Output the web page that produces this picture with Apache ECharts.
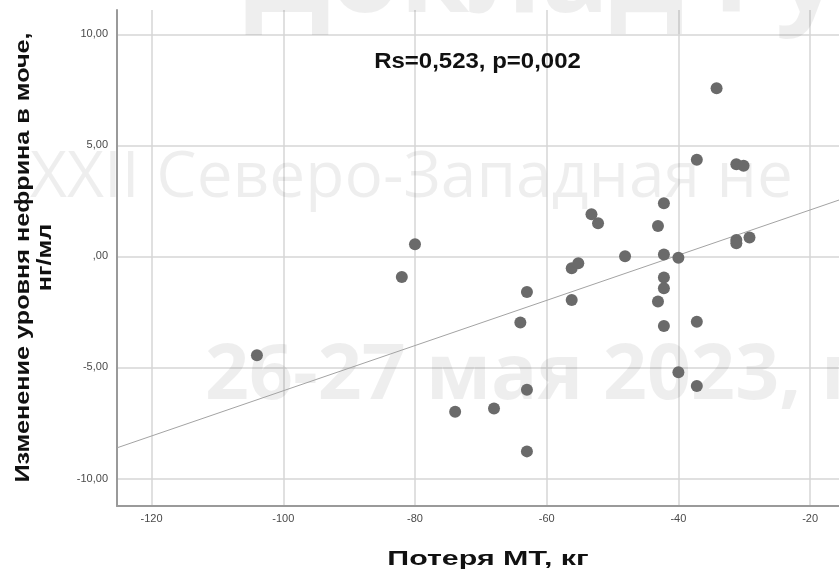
<!DOCTYPE html>
<html>
<head>
<meta charset="utf-8">
<title>Потеря МТ и нефрин</title>
<script src="https://cdn.jsdelivr.net/npm/echarts@6/dist/echarts.min.js"></script>
<style>
    html, body { margin: 0; padding: 0; background: #fff; }
    #chart { width: 839px; height: 575px; }
</style>
</head>
<body>
<div id="chart"></div>
<script>
// потеря МТ, кг
var lossMT = [-104.0, -82.0, -80.0, -73.9, -68.0, -64.0, -63.0, -63.0, -63.0, -56.2, -55.2,
    -56.2, -53.2, -52.2, -48.1, -43.1, -42.2, -42.2, -42.2, -42.2, -43.1, -42.2,
    -40.0, -40.0, -37.2, -37.2, -37.2, -34.2, -31.2, -30.1, -31.2, -31.2, -29.2];
// изменение уровня нефрина, нг/мл
var nephrinChange = [-4.45, -0.93, 0.55, -7.0, -6.85, -2.98, -1.6, -6.0, -8.78, -0.53, -0.31,
    -1.96, 1.9, 1.5, 0.01, 1.37, 2.4, 0.09, -0.95, -1.43, -2.03, -3.13,
    -0.06, -5.22, -2.94, -5.83, 4.35, 7.58, 4.15, 4.08, 0.74, 0.59, 0.85];

// линия регрессии (читается с картинки)
var fitSlope = 0.1018;
var fitIntercept = 4.13;
var fitX = [-125.25, -15.61];

var xRange = [-125.25, -15.61];
var yRange = [-11.24, 11.1];

var xTitle = 'Потеря МТ, кг';
var yTitle = 'Изменение уровня нефрина в моче,\nнг/мл';
var statText = 'Rs=0,523, p=0,002';
var watermarks = ['Доклад Гус', 'XXII Северо-Западная не', '26-27 мая 2023, г'];

var points = [];
for (var i = 0; i < lossMT.length; i++) {
    points.push([lossMT[i], nephrinChange[i]]);
}
var fitLine = [];
for (var j = 0; j < fitX.length; j++) {
    fitLine.push([fitX[j], fitSlope * fitX[j] + fitIntercept]);
}

var wmColor = 'rgba(0,0,0,0.065)';
var wmFont = '"Open Sans", "Noto Sans", sans-serif';
var arial = '"Liberation Sans", Arial, sans-serif';

var chart = echarts.init(document.getElementById('chart'));
var option = {
    animation: false,
    backgroundColor: '#fff',
    grid: {
        left: 117,
        top: 10,
        right: 0,
        bottom: 69
    },
    graphic: [
        { type: 'text', z: 1, left: 245, top: -76,
          style: { text: watermarks[0], fill: wmColor, font: 'bold 112px ' + wmFont } },
        { type: 'text', z: 1, left: 30, top: 147,
          style: { text: watermarks[1], fill: wmColor, font: '64px ' + wmFont } },
        { type: 'text', z: 1, left: 205, top: 339,
          style: { text: watermarks[2], fill: wmColor, font: 'bold 77px ' + wmFont } },
        { type: 'text', z: 5, x: 477.5, y: 61.5, scaleX: 1.09,
          style: { text: statText, fill: '#111', align: 'center', verticalAlign: 'middle',
                   font: 'bold 22px ' + arial } },
        { type: 'text', z: 5, x: 488, y: 559, scaleX: 1.52,
          style: { text: xTitle, fill: '#111', align: 'center', verticalAlign: 'middle',
                   font: 'bold 20px ' + arial } },
        { type: 'text', z: 5, x: 34, y: 257.5, scaleX: 1.2, rotation: Math.PI / 2,
          style: { text: yTitle, fill: '#111', align: 'center', verticalAlign: 'middle',
                   lineHeight: 22, font: 'bold 21px ' + arial } }
    ],
    xAxis: {
        type: 'value',
        min: xRange[0],
        max: xRange[1],
        axisLine: { onZero: false, lineStyle: { color: '#9a9a9a', width: 2 } },
        axisTick: { show: false },
        axisLabel: {
            showMinLabel: false,
            showMaxLabel: false,
            margin: 7,
            fontFamily: arial,
            fontSize: 11,
            color: '#4a4a4a'
        },
        splitLine: {
            showMinLine: false,
            showMaxLine: false,
            lineStyle: { color: '#d6d6d6', width: 1.5 }
        }
    },
    yAxis: {
        type: 'value',
        min: yRange[0],
        max: yRange[1],
        axisLine: { show: true, onZero: false, lineStyle: { color: '#9a9a9a', width: 2 } },
        axisTick: { show: false },
        axisLabel: {
            showMinLabel: false,
            showMaxLabel: false,
            margin: 9,
            fontFamily: arial,
            fontSize: 11,
            color: '#4a4a4a',
            formatter: function (val) {
                if (val === 0) {
                    return ',00';
                }
                return val.toFixed(2).replace('.', ',');
            }
        },
        splitLine: {
            showMinLine: false,
            showMaxLine: false,
            lineStyle: { color: '#d6d6d6', width: 1.5 }
        }
    },
    series: [{
        type: 'line',
        data: fitLine,
        showSymbol: false,
        silent: true,
        z: 3,
        lineStyle: { color: '#a3a3a3', width: 1 }
    }, {
        type: 'scatter',
        data: points,
        symbolSize: 12,
        z: 4,
        itemStyle: { color: '#6a6a6a', opacity: 1 }
    }]
};
chart.setOption(option);

window.onresize = function () {
    chart.resize();
};
</script>
</body>
</html>
